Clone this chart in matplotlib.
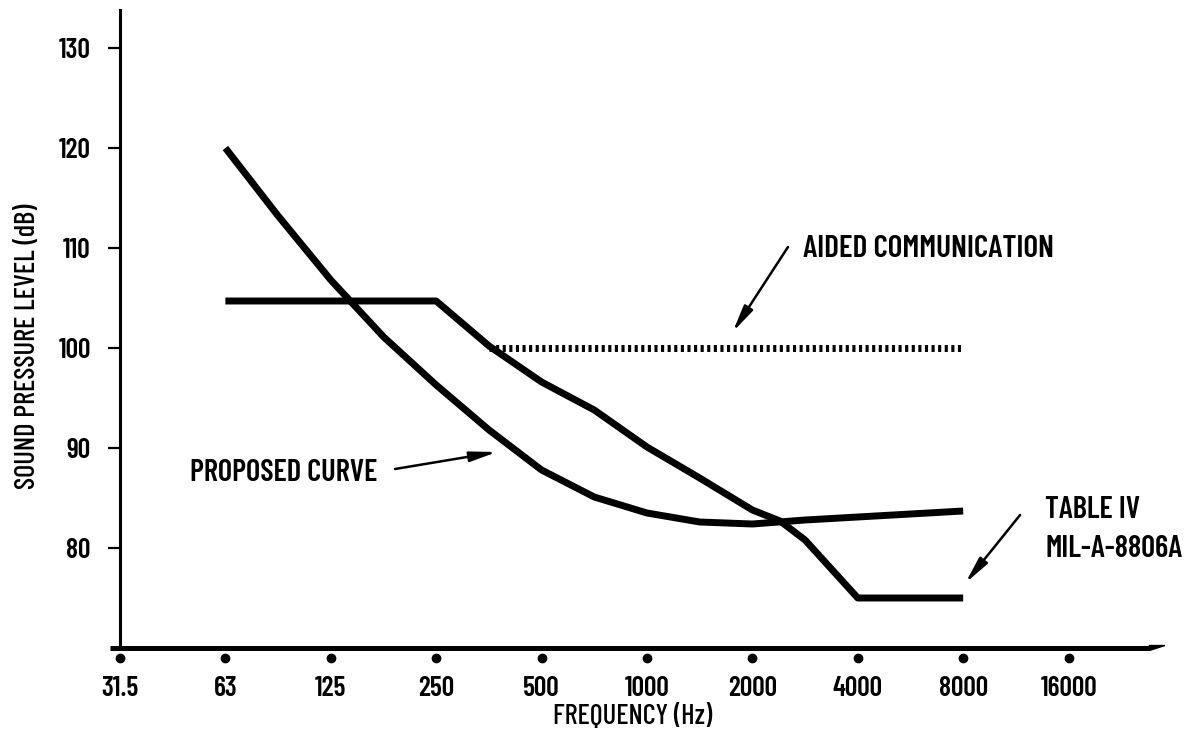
import numpy as np
import matplotlib
matplotlib.use("Agg")
import matplotlib.pyplot as plt

plt.rcParams['font.family'] = ['Barlow Condensed', 'DejaVu Sans']
plt.rcParams['font.weight'] = 'semibold'
plt.rcParams['axes.labelweight'] = 'medium'

# octave band centres (nominal labels) and their exact positions
band_pos = [31.25, 62.5, 125, 250, 500, 1000, 2000, 4000, 8000, 16000]
band_labels = ["31.5", "63", "125", "250", "500", "1000", "2000", "4000", "8000", "16000"]
spl_ticks = [80, 90, 100, 110, 120, 130]

# proposed curve
prop_freq = [62.5, 88, 125, 177, 250, 354, 500, 707, 1000, 1414, 2000, 2828, 4000, 5657, 8000]
prop_spl = [120, 113.3, 106.8, 101.1, 96.3, 91.8, 87.8, 85.1, 83.5, 82.6, 82.4, 82.8, 83.1, 83.4, 83.7]

# Table IV MIL-A-8806A
tab_freq = [62.5, 125, 250, 354, 500, 707, 1000, 1414, 2000, 2400, 2828, 4000, 8000]
tab_spl = [104.7, 104.7, 104.7, 100.2, 96.6, 93.8, 90.1, 87.0, 83.8, 82.7, 80.8, 75.0, 75.0]

# aided communication
aid_freq = [354, 8000]
aid_spl = [100, 100]

fig = plt.figure(figsize=(11.85, 7.32), dpi=100)
ax = fig.add_axes([120 / 1185, 84 / 732, 1045 / 1185, 638 / 732])
ax.set_xscale('log', base=2)
ax.set_xlim(31.25, 31.25 * 2 ** 9.915)
ax.set_ylim(70, 133.8)

ax.plot(prop_freq, prop_spl, color='black', lw=5, solid_capstyle='butt', solid_joinstyle='round')
ax.plot(tab_freq, tab_spl, color='black', lw=5, solid_capstyle='butt', solid_joinstyle='round')
ax.plot(aid_freq, aid_spl, color='black', lw=5, linestyle=(0, (0.45, 0.5)), dash_capstyle='butt')

# axes
for s in ['top', 'right', 'bottom']:
    ax.spines[s].set_visible(False)
ax.spines['left'].set_linewidth(2.2)
ax.plot([-0.01, 0.985], [0, 0], transform=ax.transAxes, color='black', lw=3.6,
        solid_capstyle='butt', clip_on=False)
ax.fill([0.985, 1.0, 0.985], [0.0039, 0.0039, -0.0039], transform=ax.transAxes,
        color='black', clip_on=False)
ax.plot(band_pos, [-0.016] * len(band_pos), 'o', color='black', ms=6,
        transform=ax.get_xaxis_transform(), clip_on=False)

ax.set_xticks(band_pos)
ax.set_xticklabels(band_labels)
ax.minorticks_off()
ax.tick_params(axis='x', length=0, pad=20, labelsize=20)
ax.set_yticks(spl_ticks)
ax.tick_params(axis='y', length=9, width=1.6, pad=12, labelsize=20)

ax.set_xlabel("FREQUENCY (Hz)", fontsize=20.5)
ax.xaxis.set_label_coords(0.491, -0.088)
ax.set_ylabel("SOUND PRESSURE LEVEL (dB)", fontsize=20.5)
ax.yaxis.set_label_coords(-0.076, 0.473)

arrow = dict(arrowstyle='-|>,head_length=0.8,head_width=0.15', lw=1.8, color='black',
             mutation_scale=20, shrinkA=0, shrinkB=0)
ax.annotate("", xy=(1757, 101.6), xytext=(2528, 110.1), arrowprops=arrow)
ax.text(2785, 109.1, "AIDED COMMUNICATION", fontsize=22.5, ha='left', va='baseline')
ax.annotate("", xy=(373, 89.6), xytext=(190.7, 87.9), arrowprops=arrow)
ax.text(169.4, 86.7, "PROPOSED CURVE", fontsize=22, ha='right', va='baseline')
ax.annotate("", xy=(8117, 76.5), xytext=(11630, 83.3), arrowprops=arrow)
ax.text(13717, 83.0, "TABLE IV", fontsize=22, ha='left', va='baseline')
ax.text(13717, 79.1, "MIL-A-8806A", fontsize=22, ha='left', va='baseline')

fig.savefig("out.png", dpi=100)
